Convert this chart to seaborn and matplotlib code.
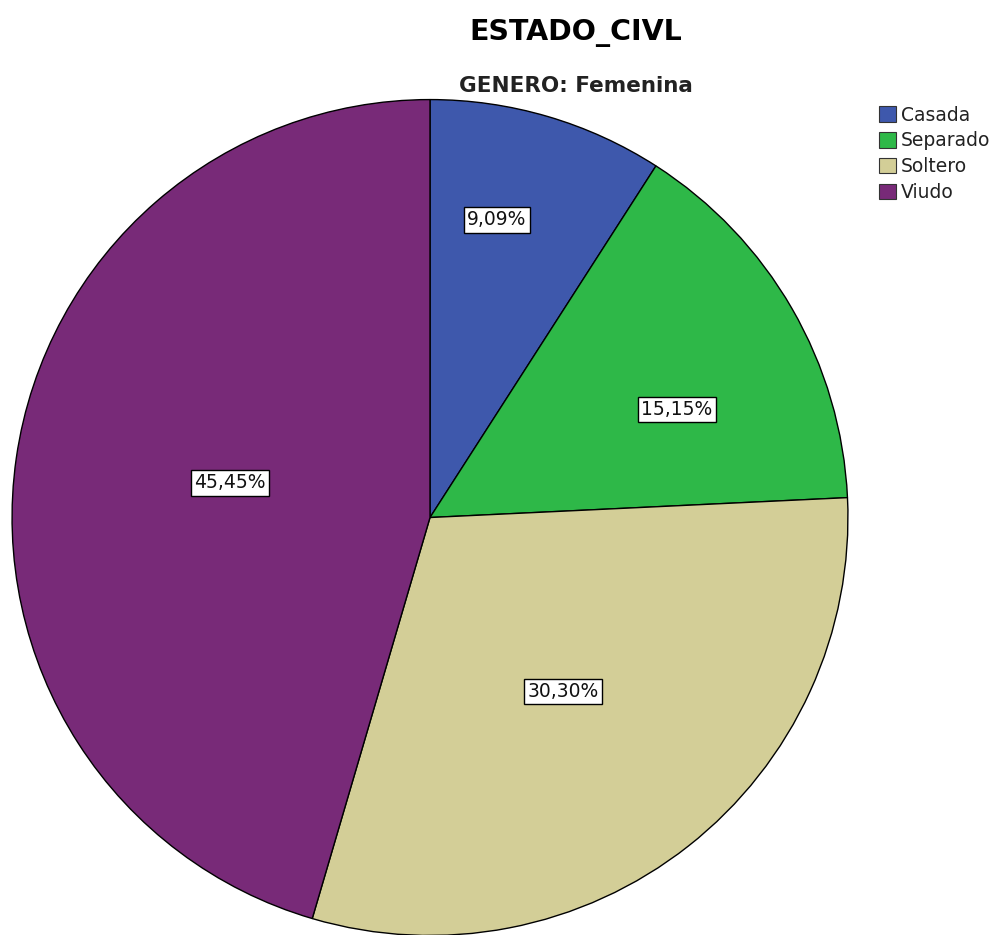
import numpy as np
import matplotlib
matplotlib.use("Agg")
import matplotlib.pyplot as plt
import seaborn as sns
from matplotlib.patches import Patch

sns.set_theme(style="white")
plt.rcParams["font.family"] = ["DejaVu Sans"]

categories = ["Casada", "Separado", "Soltero", "Viudo"]
counts = [3, 5, 10, 15]
pct_labels = ["9,09%", "15,15%", "30,30%", "45,45%"]
palette = sns.color_palette(["#3E58AC", "#2EB848", "#D3CE97", "#782A78"])
# radial distance and angular nudge (degrees) of each percentage label
label_radius = [0.73, 0.645, 0.524, 0.486]
label_nudge = [3.7, -6.4, -0.8, -1.7]

fig = plt.figure(figsize=(10, 9.35), dpi=100)
ax = fig.add_axes([0.012, -0.0005, 0.836, 0.894])

wedges, _ = ax.pie(
    counts, colors=palette, startangle=90, counterclock=False,
    radius=1.0, wedgeprops=dict(edgecolor="black", linewidth=1.0),
)
ax.set_xlim(-1, 1)
ax.set_ylim(-1, 1)
ax.set_aspect("equal")
ax.axis("off")

for w, txt, r, d in zip(wedges, pct_labels, label_radius, label_nudge):
    ang = np.deg2rad((w.theta1 + w.theta2) / 2 + d)
    ax.text(r * np.cos(ang), r * np.sin(ang), txt, ha="center", va="center",
            fontsize=13.5, color="#111111",
            bbox=dict(boxstyle="square,pad=0.18", facecolor="white",
                      edgecolor="black", linewidth=1.0))

fig.text(0.576, 0.965, "ESTADO_CIVL", ha="center", va="center",
         fontsize=20.5, fontweight="bold", color="black")
fig.text(0.576, 0.908, "GENERO: Femenina", ha="center", va="center",
         fontsize=15.5, fontweight="bold", color="#222222")

handles = [Patch(facecolor=c, edgecolor="#333333", linewidth=0.8) for c in palette]
fig.legend(handles, categories, loc="upper left", bbox_to_anchor=(0.879, 0.887),
           frameon=False, fontsize=13.5, handlelength=0.9, handleheight=0.9,
           handletextpad=0.25, labelspacing=0.36, borderaxespad=0, borderpad=0,
           labelcolor="#222222")

fig.savefig("out.png", dpi=100, facecolor="white")
